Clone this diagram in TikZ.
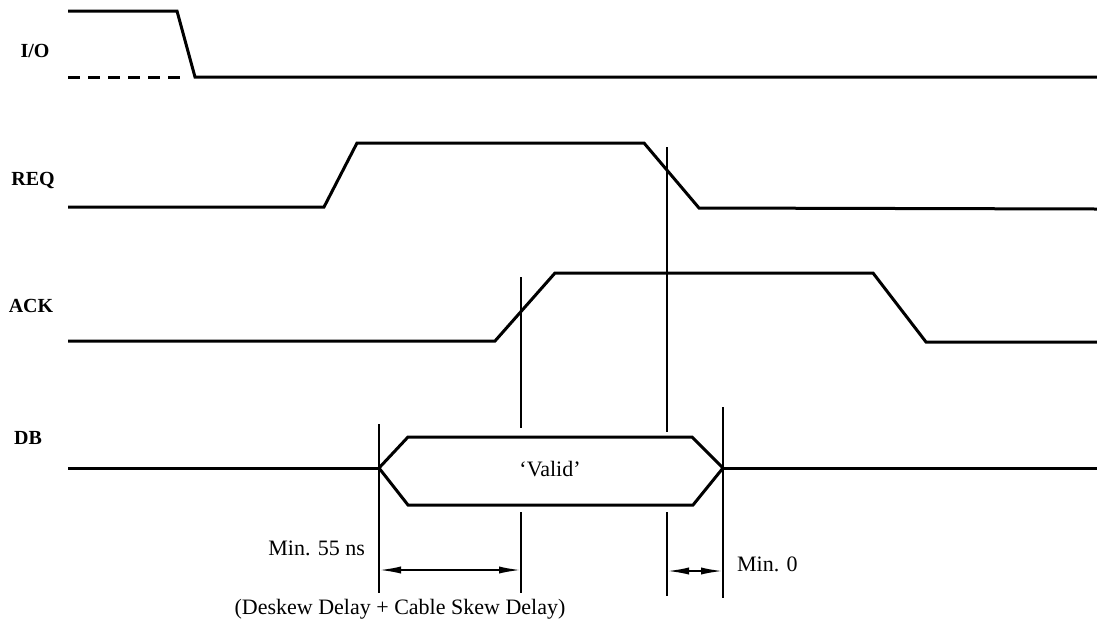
\documentclass[tikz,border=0pt]{standalone}
\usepackage{fontspec}
\setmainfont{Liberation Serif}
\usetikzlibrary{arrows.meta}

\begin{document}
\begin{tikzpicture}[x=.5pt,y=-.5pt,font=\fontsize{11}{13}\selectfont,
 sig/.style={line width=1.5pt,line join=miter},
 guide/.style={line width=.6pt},
 dimline/.style={line width=1pt,{Latex[length=11pt,width=3.6pt]}-{Latex[length=11pt,width=3.6pt]}},
 lbl/.style={font=\fontsize{10}{12}\selectfont\bfseries}]
\useasboundingbox (0,0) rectangle (1097,622);
% signal names
\node[lbl] (io) at (35,51) {I/O};
\node[lbl] (req) at (33,180) {REQ};
\node[lbl] (ack) at (31,306) {ACK};
\node[lbl] (db) at (28,438) {DB};
% waveforms
\draw[sig] (68,11) -- (177,11) -- (195,77) -- (1097,77);
\draw[sig,dash pattern=on 6pt off 4pt] (68,77) -- (183,77);
\draw[sig] (68,207) -- (324,207) -- (357,143) -- (644,143) -- (699,208) -- (1097,209);
\draw[sig] (68,341) -- (495,341) -- (555,273) -- (873,273) -- (926,342) -- (1097,342);
\draw[sig] (68,468) -- (379,468);
\draw[sig] (379,468) -- (408,437) -- (692,437) -- (723,468) -- (693,505) -- (408,505) -- cycle;
\draw[sig] (723,468) -- (1097,468);
\node (valid) at (550,469) {`Valid'};
% timing guides
\draw[guide] (379,424) -- (379,593);
\draw[guide] (521,277) -- (521,428);
\draw[guide] (521,512) -- (521,593);
\draw[guide] (667,147) -- (667,432);
\draw[guide] (667,512) -- (667,596);
\draw[guide] (723,407) -- (723,598);
% min times
\coordinate (t0) at (379,570);
\coordinate (t1) at (521,570);
\coordinate (t2) at (667,571);
\coordinate (t3) at (723,571);
\draw[dimline] (t0) -- (t1);
\draw[dimline] (t2) -- (t3);
\node[anchor=east] (min55) at (372,548) {Min. 55 ns};
\node[anchor=west] (min0) at (730,564) {Min. 0};
\node (skew) at (400,609) {(Deskew Delay + Cable Skew Delay)};
\end{tikzpicture}
\end{document}
